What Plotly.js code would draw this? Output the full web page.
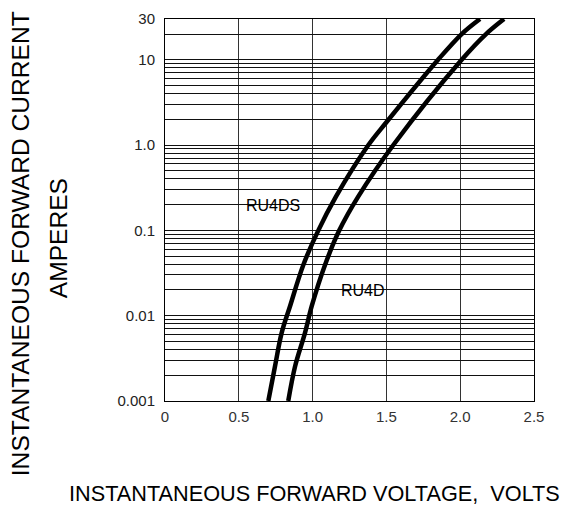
<!DOCTYPE html>
<html>
<head>
<meta charset="utf-8">
<script src="https://cdn.plot.ly/plotly-3.0.1.min.js"></script>
<style>html,body{margin:0;padding:0;background:#fff;}#chart{width:576px;height:511px;}</style>
</head>
<body>
<div id="chart"></div>
<script>
// Series: forward voltage (V) vs forward current (A)
const ru4dsV = [0.700, 0.745, 0.790, 0.847, 0.937, 1.039, 1.159, 1.378, 1.500, 1.850, 2.010, 2.134];
const ru4dsI = [0.001, 0.00254, 0.00625, 0.0129, 0.0393, 0.1, 0.25, 1.0, 1.85, 10, 20, 30];
const ru4dV = [0.835, 0.881, 0.948, 0.994, 1.084, 1.181, 1.310, 1.547, 2.010, 2.175, 2.297];
const ru4dI = [0.001, 0.00254, 0.00625, 0.0129, 0.0393, 0.1, 0.25, 1.0, 10, 20, 30];

// Axis ticks / grid
const xTickVals = [0, 0.5, 1.0, 1.5, 2.0, 2.5];
const xTickText = ['0', '0.5', '1.0', '1.5', '2.0', '2.5'];
const yGridVals = [0.001,0.002,0.003,0.004,0.005,0.006,0.007,0.008,0.009,
                   0.01,0.02,0.03,0.04,0.05,0.06,0.07,0.08,0.09,
                   0.1,0.2,0.3,0.4,0.5,0.6,0.7,0.8,0.9,
                   1,2,3,4,5,6,7,8,9,
                   10,20,30];
const yLabelVals = [0.001, 0.01, 0.1, 1, 10, 30];
const yLabelText = ['0.001', '0.01', '0.1', '1.0', '10', '30'];

// Labels
const seriesNames = ['RU4DS', 'RU4D'];
const labelPos = [[0.73, 0.193], [1.34, 0.0198]];
const yTitle1 = 'INSTANTANEOUS FORWARD CURRENT';
const yTitle2 = 'AMPERES';
const xTitle = 'INSTANTANEOUS FORWARD VOLTAGE,&nbsp;&nbsp;VOLTS';

const yTickText = yGridVals.map(v => {
  const i = yLabelVals.findIndex(l => Math.abs(l - v) < v * 1e-6);
  return i >= 0 ? yLabelText[i] : '';
});

const FONT = '"Liberation Sans", Arial, sans-serif';

const lineStyle = {color: '#000', width: 4.5, shape: 'spline', smoothing: 1};
const traces = [
  {x: ru4dsV, y: ru4dsI, type: 'scatter', mode: 'lines', name: seriesNames[0], line: lineStyle, hoverinfo: 'skip'},
  {x: ru4dV, y: ru4dI, type: 'scatter', mode: 'lines', name: seriesNames[1], line: lineStyle, hoverinfo: 'skip'}
];

const annotations = [
  {text: seriesNames[0], x: labelPos[0][0], y: Math.log10(labelPos[0][1]), xref: 'x', yref: 'y', showarrow: false,
   font: {family: FONT, size: 16, color: '#000'}, xanchor: 'center', yanchor: 'middle'},
  {text: seriesNames[1], x: labelPos[1][0], y: Math.log10(labelPos[1][1]), xref: 'x', yref: 'y', showarrow: false,
   font: {family: FONT, size: 16, color: '#000'}, xanchor: 'center', yanchor: 'middle'},
  {text: yTitle1, x: -0.393, y: 0.413, xref: 'paper', yref: 'paper', showarrow: false, textangle: -90,
   font: {family: FONT, size: 24.6, color: '#000'}, xanchor: 'center', yanchor: 'middle'},
  {text: yTitle2, x: -0.29, y: 0.426, xref: 'paper', yref: 'paper', showarrow: false, textangle: -90,
   font: {family: FONT, size: 24.6, color: '#000'}, xanchor: 'center', yanchor: 'middle'},
  {text: xTitle, x: 0.4065, y: -0.241, xref: 'paper', yref: 'paper', showarrow: false,
   font: {family: FONT, size: 21.7, color: '#000'}, xanchor: 'center', yanchor: 'middle'}
];

const layout = {
  width: 576, height: 511,
  margin: {l: 165, r: 42, t: 19, b: 110, pad: 0},
  paper_bgcolor: '#fff', plot_bgcolor: '#fff',
  showlegend: false,
  font: {family: FONT, size: 15, color: '#222'},
  xaxis: {
    type: 'linear', range: [0, 2.5], tickvals: xTickVals, ticktext: xTickText,
    showgrid: true, gridcolor: '#333', gridwidth: 1, zeroline: false,
    showline: true, linecolor: '#000', linewidth: 1, mirror: true,
    ticks: '', ticklabelstandoff: 2, tickfont: {family: FONT, size: 15, color: '#333'}
  },
  yaxis: {
    type: 'log', range: [-3, Math.log10(30)], tickvals: yGridVals, ticktext: yTickText,
    showgrid: true, gridcolor: '#111', gridwidth: 1, zeroline: false,
    showline: true, linecolor: '#000', linewidth: 1, mirror: true,
    ticks: '', ticklabelstandoff: 6, tickfont: {family: FONT, size: 15, color: '#222'}
  },
  annotations: annotations
};

Plotly.newPlot('chart', traces, layout, {displayModeBar: false, staticPlot: true});
</script>
</body>
</html>
